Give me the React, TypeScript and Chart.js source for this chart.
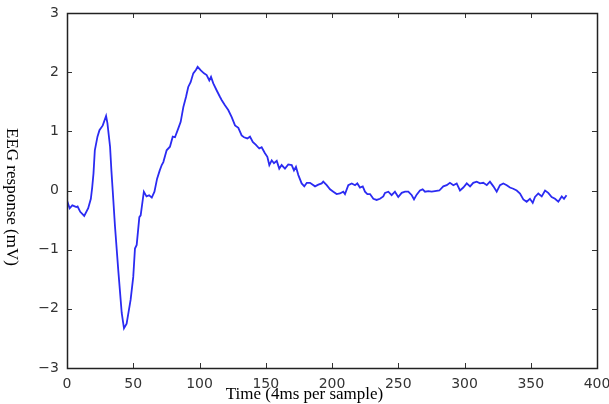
import React, { useEffect, useRef } from "react";
import { Chart, registerables } from "chart.js";

Chart.register(...registerables);

const sampleIdx: number[] = [
  0, 2, 4, 5, 7, 8, 10, 13, 16, 18, 19, 20, 21, 23, 24.5, 27, 29.5, 30.5, 32.5, 33.5,
  34.5, 36.2, 38.7, 41.3, 43, 45, 48, 50, 51.3, 52.6, 54.6, 55.6, 58, 60, 62, 64, 66, 68,
  70, 71.5, 72.7, 75.2, 77.7, 79.8, 81.5, 84, 85.8, 87.8, 89.8, 91.5, 93.3, 95.3, 97.4,
  98.6, 101, 103.4, 105.4, 107.4, 108.7, 110.4, 113, 115.5, 116.7, 119.2, 121.7, 124.3,
  126.8, 129.3, 131.8, 133.6, 136.1, 138.1, 140.2, 142.6, 145.1, 146.9, 149.4, 151.2,
  152.7, 154.5, 156.2, 158.3, 160.2, 162, 164.5, 167, 169.6, 171.3, 172.8, 174.6, 177.1,
  179.1, 181, 183.4, 187.2, 189.7, 192.2, 193.4, 196, 198.5, 201, 203.5, 206, 208.5,
  209.8, 212.3, 214.9, 217.4, 219.1, 221.1, 223.2, 224.9, 226.7, 228.7, 231.2, 233.7,
  236.2, 238.7, 240, 242.5, 245, 247.5, 250, 252.6, 255.1, 257.6, 260.2, 261.9, 263.9,
  266.4, 268.4, 270.2, 272.7, 275.2, 277.7, 281, 284, 286.6, 289, 291.6, 294.1, 296.6,
  299.1, 301.7, 304.2, 306.6, 309.2, 311.7, 314.2, 316.8, 319.2, 321.8, 324.3, 326.8,
  329.3, 331.9, 334.3, 336.8, 339.4, 341.9, 344.4, 346.9, 349.4, 351.5, 353.2, 355.7,
  358.3, 360.8, 363.2, 365.8, 368.3, 370.8, 373.4, 375.1, 377,
];

const eegValues: number[] = [
  -0.17, -0.3, -0.25, -0.26, -0.28, -0.27, -0.36, -0.43, -0.3, -0.14, 0.05, 0.29, 0.68,
  0.91, 1.02, 1.1, 1.26, 1.14, 0.74, 0.34, 0.0, -0.6, -1.35, -2.07, -2.33, -2.25, -1.85,
  -1.46, -0.98, -0.92, -0.45, -0.42, -0.02, -0.1, -0.08, -0.12, -0.02, 0.2, 0.34, 0.43,
  0.48, 0.68, 0.74, 0.91, 0.9, 1.05, 1.16, 1.41, 1.58, 1.75, 1.83, 1.98, 2.04, 2.09, 2.03,
  1.98, 1.95, 1.86, 1.92, 1.81, 1.69, 1.58, 1.53, 1.44, 1.36, 1.24, 1.1, 1.06, 0.93, 0.9,
  0.88, 0.91, 0.82, 0.77, 0.71, 0.73, 0.63, 0.57, 0.43, 0.51, 0.46, 0.5, 0.37, 0.43, 0.37,
  0.44, 0.43, 0.34, 0.4, 0.26, 0.12, 0.07, 0.13, 0.13, 0.07, 0.1, 0.12, 0.15, 0.09, 0.02,
  -0.02, -0.06, -0.05, -0.02, -0.06, 0.09, 0.12, 0.09, 0.12, 0.05, 0.07, -0.02, -0.06,
  -0.06, -0.14, -0.16, -0.14, -0.1, -0.04, -0.02, -0.08, -0.02, -0.11, -0.04, -0.02,
  -0.02, -0.08, -0.15, -0.07, 0.0, 0.02, -0.02, -0.01, -0.02, -0.01, 0.0, 0.07, 0.09,
  0.13, 0.09, 0.12, 0.0, 0.05, 0.12, 0.07, 0.13, 0.15, 0.12, 0.13, 0.09, 0.15, 0.07, -0.02,
  0.09, 0.12, 0.09, 0.05, 0.03, 0.0, -0.05, -0.15, -0.19, -0.14, -0.21, -0.11, -0.05, -0.1,
  0.0, -0.04, -0.11, -0.14, -0.19, -0.1, -0.14, -0.08,
];

const xTicksMin = 0;
const xTicksMax = 400;
const xTickStep = 50;
const yTicksMin = -3;
const yTicksMax = 3;
const yTickStep = 1;

const xTitle = "Time (4ms per sample)";
const yTitle = "EEG response (mV)";

const framePlugin = {
  id: "frameTicks",
  afterDatasetsDraw(chart: any) {
    const { ctx, chartArea } = chart;
    const { left, right, top, bottom } = chartArea;
    const xs = chart.scales.x;
    const ys = chart.scales.y;
    const tl = 5;
    ctx.save();
    ctx.strokeStyle = "#333";
    ctx.lineWidth = 1;
    ctx.beginPath();
    xs.ticks.forEach((t: any) => {
      const px = Math.round(xs.getPixelForValue(t.value)) + 0.5;
      ctx.moveTo(px, bottom);
      ctx.lineTo(px, bottom - tl);
      ctx.moveTo(px, top);
      ctx.lineTo(px, top + tl);
    });
    ys.ticks.forEach((t: any) => {
      const py = Math.round(ys.getPixelForValue(t.value)) + 0.5;
      ctx.moveTo(left, py);
      ctx.lineTo(left + tl, py);
      ctx.moveTo(right, py);
      ctx.lineTo(right - tl, py);
    });
    ctx.stroke();
    ctx.lineWidth = 1.5;
    ctx.strokeStyle = "#222";
    ctx.strokeRect(Math.round(left) + 0.5, Math.round(top) + 0.5, Math.round(right - left), Math.round(bottom - top));
    ctx.restore();
  },
  afterDraw(chart: any) {
    const { ctx, width } = chart;
    ctx.save();
    ctx.fillStyle = "#000";
    ctx.font = "17px 'Liberation Serif', 'Times New Roman', serif";
    ctx.textAlign = "center";
    ctx.textBaseline = "middle";
    ctx.fillText(xTitle, width / 2, 395);
    ctx.translate(11, 197);
    ctx.rotate(Math.PI / 2);
    ctx.fillText(yTitle, 0, 0);
    ctx.restore();
  },
};

export default function App() {
  const canvasRef = useRef<HTMLCanvasElement | null>(null);

  useEffect(() => {
    if (!canvasRef.current) return;
    const points = sampleIdx.map((x, i) => ({ x, y: eegValues[i] }));
    const chart = new Chart(canvasRef.current, {
      type: "line",
      data: {
        datasets: [
          {
            data: points,
            borderColor: "#2b2bf2",
            borderWidth: 1.8,
            pointRadius: 0,
            tension: 0,
            fill: false,
          },
        ],
      },
      options: {
        animation: false,
        responsive: false,
        maintainAspectRatio: false,
        layout: { padding: { left: 0, right: 12, top: 13, bottom: 0 } },
        plugins: { legend: { display: false }, tooltip: { enabled: false } },
        scales: {
          x: {
            type: "linear",
            min: xTicksMin,
            max: xTicksMax,
            grid: { display: false, drawTicks: false },
            border: { display: false },
            ticks: {
              stepSize: xTickStep,
              padding: 8,
              color: "#333",
              font: { family: "'DejaVu Sans', sans-serif", size: 14 },
              maxRotation: 0,
              autoSkip: false,
            },
            afterFit: (s: any) => {
              s.height = 36;
              s.paddingLeft = 0;
              s.paddingRight = 0;
            },
          },
          y: {
            type: "linear",
            min: yTicksMin,
            max: yTicksMax,
            grid: { display: false, drawTicks: false },
            border: { display: false },
            ticks: {
              stepSize: yTickStep,
              padding: 8,
              color: "#333",
              font: { family: "'DejaVu Sans', sans-serif", size: 14 },
              callback: (v: any) => String(v).replace("-", "\u2212"),
            },
            afterFit: (s: any) => {
              s.width = 67;
              s.paddingTop = 0;
              s.paddingBottom = 0;
            },
          },
        },
      },
      plugins: [framePlugin],
    });
    return () => chart.destroy();
  }, []);

  return (
    <div style={{ position: "fixed", left: 0, top: 0, width: 609, height: 404, background: "#fff" }}>
      <canvas ref={canvasRef} width={609} height={404} style={{ display: "block" }} />
    </div>
  );
}
